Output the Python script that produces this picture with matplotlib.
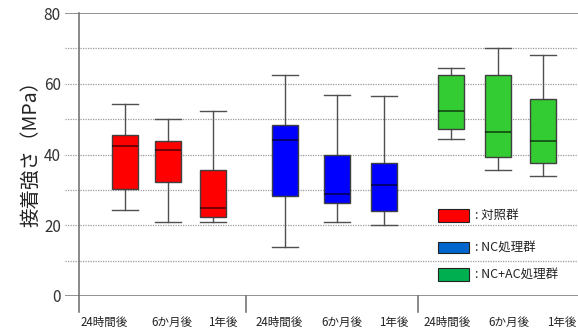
import matplotlib
matplotlib.use("Agg")
import matplotlib.pyplot as plt
from matplotlib.patches import Rectangle

plt.rcParams['font.family'] = ['Noto Sans CJK JP', 'DejaVu Sans']

# Bond strength (MPa) per group and storage period
groups = ['対照群', 'NC処理群', 'NC+AC処理群']
periods = ['24時間後', '6か月後', '1年後']

whisker_low = [24.2, 20.9, 20.8, 13.8, 21.0, 20.1, 44.4, 35.7, 33.9]
q1 = [30.3, 32.3, 22.4, 28.2, 26.4, 24.0, 47.3, 39.3, 37.7]
median = [42.3, 41.3, 25.0, 44.0, 28.8, 31.4, 52.3, 46.3, 43.8]
q3 = [45.4, 43.8, 35.7, 48.2, 40.0, 37.7, 62.4, 62.4, 55.7]
whisker_high = [54.3, 50.1, 52.4, 62.4, 56.9, 56.6, 64.4, 70.1, 68.1]

y_ticks = [0, 20, 40, 60, 80]

# layout
box_colors = ['#FF0000'] * 3 + ['#0000FF'] * 3 + ['#33CC33'] * 3
legend_colors = ['#FF0000', '#0066CC', '#00B050']
box_pos = [0.80, 1.55, 2.34, 3.60, 4.50, 5.32, 6.49, 7.31, 8.10]
label_pos = [0.44, 1.62, 2.51, 3.49, 4.59, 5.50, 6.42, 7.50, 8.43]
separators = [0.0, 2.914, 5.916]

W, H = 578, 331
fig = plt.figure(figsize=(W / 100, H / 100), dpi=100)
ax = fig.add_axes([65 / W, 35 / H, (W - 65) / W, 283 / H])
ax.set_xlim(-0.244, 8.709)
ax.set_ylim(0, 80)
for s in ax.spines.values():
    s.set_visible(False)
ax.set_xticks([])
ax.set_yticks(y_ticks)
ax.set_yticklabels([str(v) for v in y_ticks], fontsize=11, color='#333333')
ax.tick_params(axis='y', length=0, pad=3)

# horizontal gridlines
for v in range(10, 80, 10):
    ax.axhline(v, color='#9a9a9a', lw=0.9, ls=(0, (1, 1)), zorder=0)
for v in (0, 80):
    ax.axhline(v, color='#7f7f7f', lw=1.2, zorder=1)

# vertical axis and group separators
ax.plot([0, 0], [-4.5, 80], color='#6a6a6a', lw=1.1, clip_on=False, zorder=1)
for x in separators[1:]:
    ax.plot([x, x], [-4.5, 0], color='#6a6a6a', lw=1.1, clip_on=False, zorder=1)

stats = []
for i in range(len(median)):
    stats.append(dict(whislo=whisker_low[i], q1=q1[i], med=median[i],
                      q3=q3[i], whishi=whisker_high[i], fliers=[]))

bp = ax.bxp(stats, positions=box_pos, widths=0.46, patch_artist=True,
            showfliers=False, capwidths=0.46,
            boxprops=dict(edgecolor='#404040', linewidth=1.0),
            medianprops=dict(color='black', alpha=0.55, linewidth=1.4),
            whiskerprops=dict(color='#505050', linewidth=1.0),
            capprops=dict(color='#505050', linewidth=1.0),
            manage_ticks=False)
for patch, c in zip(bp['boxes'], box_colors):
    patch.set_facecolor(c)
    patch.set_zorder(3)
for m in bp['medians']:
    m.set_zorder(4)

# category labels
for x, lab in zip(label_pos, periods * 3):
    ax.text(x, -7.35, lab, ha='center', va='center', fontsize=8.3,
            color='#222222', clip_on=False)

# legend
leg_y = [(20.9, 24.6), (12.2, 15.3), (4.2, 7.9)]
for (y0, y1), c, name in zip(leg_y, legend_colors, groups):
    ax.add_patch(Rectangle((6.27, y0), 0.54, y1 - y0, facecolor=c,
                           edgecolor='#222222', lw=0.8, zorder=4))
    ax.text(6.91, (y0 + y1) / 2, ': ' + name, ha='left', va='center',
            fontsize=9, color='#222222')

fig.text(31 / W, 1 - 149 / H, '接着強さ（MPa）', rotation=90, ha='center',
         va='center', fontsize=14, color='#222222')

fig.savefig('out.png', dpi=100)
